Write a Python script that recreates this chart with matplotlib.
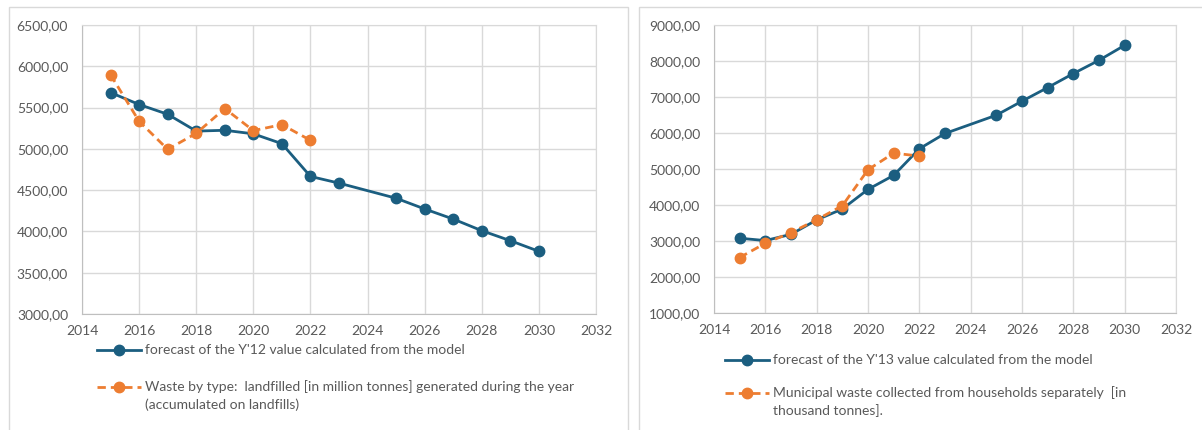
import matplotlib
matplotlib.use("Agg")
import matplotlib.pyplot as plt
from matplotlib.lines import Line2D
from matplotlib.patches import Rectangle
from matplotlib.ticker import FuncFormatter, MultipleLocator

plt.rcParams['font.family'] = ['Lato', 'DejaVu Sans']

# Lewy wykres: Y'12 (składowanie odpadów)
lata_y12 = [2015, 2016, 2017, 2018, 2019, 2020, 2021, 2022, 2023, 2025, 2026, 2027, 2028, 2029, 2030]
prognoza_y12 = [5682, 5537, 5419, 5215, 5225, 5182, 5063, 4666, 4585, 4402, 4272, 4150, 4009, 3888, 3759]
lata_skladowane = [2015, 2016, 2017, 2018, 2019, 2020, 2021, 2022]
skladowane = [5897, 5334, 4994, 5188, 5488, 5221, 5294, 5103]

# Prawy wykres: Y'13 (odpady komunalne zbierane selektywnie)
lata_y13 = [2015, 2016, 2017, 2018, 2019, 2020, 2021, 2022, 2023, 2025, 2026, 2027, 2028, 2029, 2030]
prognoza_y13 = [3077, 3012, 3185, 3585, 3889, 4434, 4823, 5562, 5987, 6495, 6884, 7262, 7651, 8020, 8436]
lata_komunalne = [2015, 2016, 2017, 2018, 2019, 2020, 2021, 2022]
komunalne = [2541, 2938, 3233, 3590, 3980, 4980, 5442, 5359]

etykiety_lewe = ["forecast of the Y'12 value calculated from the model",
                 "Waste by type:  landfilled [in million tonnes] generated during the year",
                 "(accumulated on landfills)"]
etykiety_prawe = ["forecast of the Y'13 value calculated from the model",
                  "Municipal waste collected from households separately  [in",
                  "thousand tonnes]."]

NIEBIESKI = '#1b5e80'
POMARANCZ = '#ed7d31'
SZARY = '#595959'
SIATKA = '#d9d9d9'
ROZMIAR = 10

W, H = 1202, 430
fig = plt.figure(figsize=(W / 100, H / 100), dpi=100)


def fx(px):
    return px / W


def fy(py):
    return 1 - py / H


# ramki obu wykresów
fig.add_artist(Rectangle((fx(9), fy(440)), fx(628 - 9), fy(7) - fy(440),
                         transform=fig.transFigure, fill=False, ec=SIATKA, lw=1))
fig.add_artist(Rectangle((fx(639), fy(440)), fx(1215 - 639), fy(7) - fy(440),
                         transform=fig.transFigure, fill=False, ec=SIATKA, lw=1))

fmt = FuncFormatter(lambda v, p: f"{v:.2f}".replace('.', ','))


def przygotuj_os(ax, ymin, ymax, krok):
    ax.set_xlim(2014, 2032)
    ax.set_ylim(ymin, ymax)
    ax.xaxis.set_major_locator(MultipleLocator(2))
    ax.yaxis.set_major_locator(MultipleLocator(krok))
    ax.yaxis.set_major_formatter(fmt)
    ax.grid(True, color=SIATKA, lw=1)
    ax.set_axisbelow(True)
    for s in ['top', 'right']:
        ax.spines[s].set_color(SIATKA)
    for s in ['left', 'bottom']:
        ax.spines[s].set_color('#bfbfbf')
    ax.tick_params(length=0, labelsize=ROZMIAR, labelcolor=SZARY)
    ax.tick_params(axis='y', pad=10)
    ax.tick_params(axis='x', pad=8)


def rysuj(ax, x1, y1, x2, y2):
    ax.plot(x1, y1, color=NIEBIESKI, lw=2, marker='o', ms=7.5, zorder=3)
    ax.plot(x2, y2, color=POMARANCZ, lw=2, ls=(0, (3, 1.8)), marker='o', ms=7.5, zorder=4)


def legenda(x0, x1, ytxt, etykiety):
    xs = [fx(x0), fx(x1)]
    y1 = fy(ytxt[0])
    y2 = fy(ytxt[1])
    fig.add_artist(Line2D(xs, [y1, y1], color=NIEBIESKI, lw=2, transform=fig.transFigure))
    fig.add_artist(Line2D([(xs[0] + xs[1]) / 2], [y1], color=NIEBIESKI, marker='o', ms=7.5,
                          transform=fig.transFigure))
    fig.add_artist(Line2D(xs, [y2, y2], color=POMARANCZ, lw=2, ls=(0, (3, 1.8)),
                          transform=fig.transFigure))
    fig.add_artist(Line2D([(xs[0] + xs[1]) / 2], [y2], color=POMARANCZ, marker='o', ms=7.5,
                          transform=fig.transFigure))
    tx = fx(x1 + 4)
    fig.text(tx, y1, etykiety[0], color=SZARY, fontsize=ROZMIAR, va='center')
    fig.text(tx, y2, etykiety[1], color=SZARY, fontsize=ROZMIAR, va='center')
    fig.text(tx, fy(ytxt[2]), etykiety[2], color=SZARY, fontsize=ROZMIAR, va='center')


ax1 = fig.add_axes([fx(82), fy(314), fx(596 - 82), fy(25) - fy(314)])
przygotuj_os(ax1, 3000, 6500, 500)
rysuj(ax1, lata_y12, prognoza_y12, lata_skladowane, skladowane)
legenda(97, 141, [350, 387, 405], etykiety_lewe)

ax2 = fig.add_axes([fx(714), fy(313), fx(1176 - 714), fy(25) - fy(313)])
przygotuj_os(ax2, 1000, 9000, 1000)
rysuj(ax2, lata_y13, prognoza_y13, lata_komunalne, komunalne)
legenda(725, 769, [360, 393, 411], etykiety_prawe)

fig.savefig('out.png', dpi=100)
